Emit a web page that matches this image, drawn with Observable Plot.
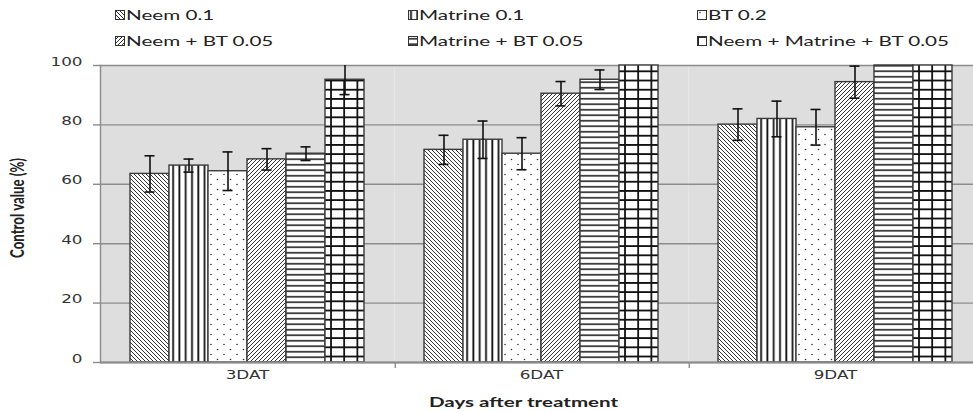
<!DOCTYPE html>
<html>
<head>
<meta charset="utf-8">
<script src="https://cdn.jsdelivr.net/npm/d3@7"></script>
<script src="https://cdn.jsdelivr.net/npm/@observablehq/plot@0.6"></script>
<style>
  html, body { margin: 0; padding: 0; background: #fff; overflow: hidden; }
  #wrap { position: relative; width: 973px; height: 412px; font-family: Lato, "Open Sans", sans-serif; color: #222; }
  #legend { position: relative; width: 973px; height: 52px; }
  .item { position: absolute; height: 16px; display: flex; align-items: center; white-space: nowrap; font-size: 12.5px; }
  .item svg { flex: none; }
  .item span { display: inline-block; transform: scaleX(1.65); transform-origin: left center; margin-left: 1px; }
  #chart svg { display: block; overflow: hidden; }
  #xlab { position: absolute; left: 523px; top: 402px; font-weight: bold; font-size: 12.5px; white-space: nowrap; }
  #ylab { position: absolute; left: 17px; top: 208px; font-weight: bold; font-size: 13px; white-space: nowrap; }
</style>
</head>
<body>
<div id="wrap">
  <svg width="0" height="0" style="position:absolute">
    <defs>
      <pattern id="pat0" patternUnits="userSpaceOnUse" width="4" height="4">
        <rect width="4" height="4" fill="#fff"/>
        <path d="M-1,-1L5,5M-1,3L1,5M3,-1L5,1" stroke="#333" stroke-width="1"/>
      </pattern>
      <pattern id="pat1" patternUnits="userSpaceOnUse" width="6.3" height="4">
        <rect width="6.3" height="4" fill="#fff"/>
        <path d="M3,0V4" stroke="#111" stroke-width="1.8"/>
      </pattern>
      <pattern id="pat2" patternUnits="userSpaceOnUse" width="13" height="10">
        <rect width="13" height="10" fill="#fff"/>
        <circle cx="3" cy="2.5" r="0.8" fill="#333"/>
        <circle cx="9.5" cy="7.5" r="0.8" fill="#333"/>
      </pattern>
      <pattern id="pat3" patternUnits="userSpaceOnUse" width="4" height="4">
        <rect width="4" height="4" fill="#fff"/>
        <path d="M-1,5L5,-1M-1,1L1,-1M3,5L5,3" stroke="#333" stroke-width="1"/>
      </pattern>
      <pattern id="pat4" patternUnits="userSpaceOnUse" width="4" height="5.5">
        <rect width="4" height="5.5" fill="#fff"/>
        <path d="M0,2.75H4" stroke="#222" stroke-width="1.6"/>
      </pattern>
      <pattern id="pat5" patternUnits="userSpaceOnUse" width="13.2" height="9.2">
        <rect width="13.2" height="9.2" fill="#fff"/>
        <path d="M1,0V9.2M0,1H13.2" stroke="#111" stroke-width="1.8"/>
      </pattern>
    </defs>
  </svg>
  <div id="legend"></div>
  <div id="chart"></div>
  <div id="ylab">Control value (%)</div>
  <div id="xlab">Days after treatment</div>
</div>
<script>
// ---- data ----
const days = ["3DAT", "6DAT", "9DAT"];
const series = ["Neem 0.1", "Matrine 0.1", "BT 0.2", "Neem + BT 0.05", "Matrine + BT 0.05", "Neem + Matrine + BT 0.05"];
const neem01       = [63.5, 71.6, 80.1];
const matrine01    = [66.3, 75.0, 82.0];
const bt02         = [64.4, 70.3, 79.2];
const neemBt005    = [68.4, 90.5, 94.4];
const matrineBt005 = [70.3, 95.2, 100];
const allThree005  = [95.2, 100, 100];
const neem01Err       = [6.1, 4.9, 5.3];
const matrine01Err    = [2.2, 6.3, 6.0];
const bt02Err         = [6.5, 5.4, 6.0];
const neemBt005Err    = [3.6, 4.1, 5.4];
const matrineBt005Err = [2.3, 3.3, 0];
const allThree005Err  = [5.0, 0, 0];
const yTicks = [0, 20, 40, 60, 80, 100];

const valueLists = [neem01, matrine01, bt02, neemBt005, matrineBt005, allThree005];
const errLists = [neem01Err, matrine01Err, bt02Err, neemBt005Err, matrineBt005Err, allThree005Err];
const rows = [];
days.forEach((d, i) => series.forEach((s, j) => rows.push({day: d, series: s, idx: j, value: valueLists[j][i], err: errLists[j][i]})));

// ---- legend ----
const legendCols = [115, 408, 697];
const legendRowsTop = [7, 33];
const legend = document.getElementById("legend");
series.forEach((s, j) => {
  const it = document.createElement("div");
  it.className = "item";
  it.style.left = legendCols[j % 3] + "px";
  it.style.top = legendRowsTop[Math.floor(j / 3)] + "px";
  it.innerHTML = `<svg width="10" height="10"><rect x="0.5" y="0.5" width="9" height="9" fill="url(#pat${j})" stroke="#333" stroke-width="1"/></svg><span>${s}</span>`;
  legend.appendChild(it);
});

// ---- chart ----
const W = 973, H = 360, mL = 100, mR = -9, mT = 13, mB = 50;
const padOuter = 0.74;
const facetW = (W - mL - mR) / days.length;
const step = facetW / (series.length + 2 * padOuter);
const sepDx = -(0.5 + padOuter) * step;
const withErr = rows.filter(r => r.err > 0);
const ink = "#111";

const chart = Plot.plot({
  width: W, height: H,
  marginLeft: mL, marginRight: mR, marginTop: mT, marginBottom: mB,
  fx: {domain: days, padding: 0, label: null},
  x: {domain: series, paddingInner: 0, paddingOuter: padOuter, axis: null},
  y: {domain: [0, 100], axis: null},
  marks: [
    Plot.frame({fill: "#dedede", stroke: "none"}),
    Plot.gridY(yTicks, {stroke: "#8c8c8c", strokeOpacity: 1, strokeWidth: 1.4}),
    ...series.map((s, j) => Plot.barY(rows.filter(r => r.idx === j), {
      fx: "day", x: "series", y: "value",
      fill: `url(#pat${j})`, stroke: "#3a3a3a", strokeWidth: 1.4
    })),
    Plot.ruleY([0], {stroke: "#8c8c8c", strokeWidth: 2}),
    Plot.frame({anchor: "left", facetAnchor: "left", stroke: "#8c8c8c", strokeWidth: 1.4}),
    Plot.ruleX(days.slice(1), {fx: d => d, x: () => series[0], y1: () => 0, y2: () => 0, insetBottom: -6, dx: sepDx, stroke: "#8c8c8c", strokeWidth: 1.4}),
    Plot.ruleX(withErr, {fx: "day", x: "series", y1: r => r.value - r.err, y2: r => Math.min(100, r.value + r.err), stroke: ink, strokeWidth: 1.6}),
    Plot.tickY(withErr, {fx: "day", x: "series", y: r => r.value - r.err, insetLeft: 14.5, insetRight: 14.5, stroke: ink, strokeWidth: 1.6}),
    Plot.tickY(withErr.filter(r => r.value + r.err <= 100), {fx: "day", x: "series", y: r => r.value + r.err, insetLeft: 14.5, insetRight: 14.5, stroke: ink, strokeWidth: 1.6}),
    Plot.axisY(yTicks, {anchor: "left", tickSize: 7, tickPadding: 11, label: null, stroke: "#8c8c8c", strokeWidth: 1.4, fontSize: 12, fill: "#333"}),
    Plot.axisFx({anchor: "bottom", tickSize: 0, tickPadding: 16, label: null, fontSize: 12, fill: "#333"})
  ]
});
document.getElementById("chart").appendChild(chart);

// horizontal stretch of tick labels, to match the reference's wide lettering
function stretch(t, s) {
  t.style.fontFamily = '"DejaVu Sans", sans-serif';
  t.style.fontSize = "12px";
  t.style.fill = "#333";
  const x = +t.getAttribute("x") || 0, y = +t.getAttribute("y") || 0;
  const tr = t.getAttribute("transform") || "";
  t.setAttribute("transform", `${tr} translate(${x},${y}) scale(${s},1)`);
  t.removeAttribute("x"); t.removeAttribute("y");
}
chart.querySelectorAll('g[aria-label="y-axis tick label"] text, g[aria-label="fx-axis tick label"] text').forEach(t => stretch(t, 1.4));

// fit the two titles to the reference's extents
function fit(id, cx, cy, target, rotate, thick) {
  const el = document.getElementById(id);
  const w = el.offsetWidth, h = el.offsetHeight;
  el.style.left = (cx - w / 2) + "px";
  el.style.top = (cy - h / 2) + "px";
  el.style.transformOrigin = "center center";
  el.style.transform = `${rotate ? "rotate(-90deg) " : ""}scale(${target / w}, ${thick})`;
}
fit("xlab", 523, 402, 189, false, 1);
fit("ylab", 17, 208, 100, true, 1.4);
</script>
</body>
</html>
